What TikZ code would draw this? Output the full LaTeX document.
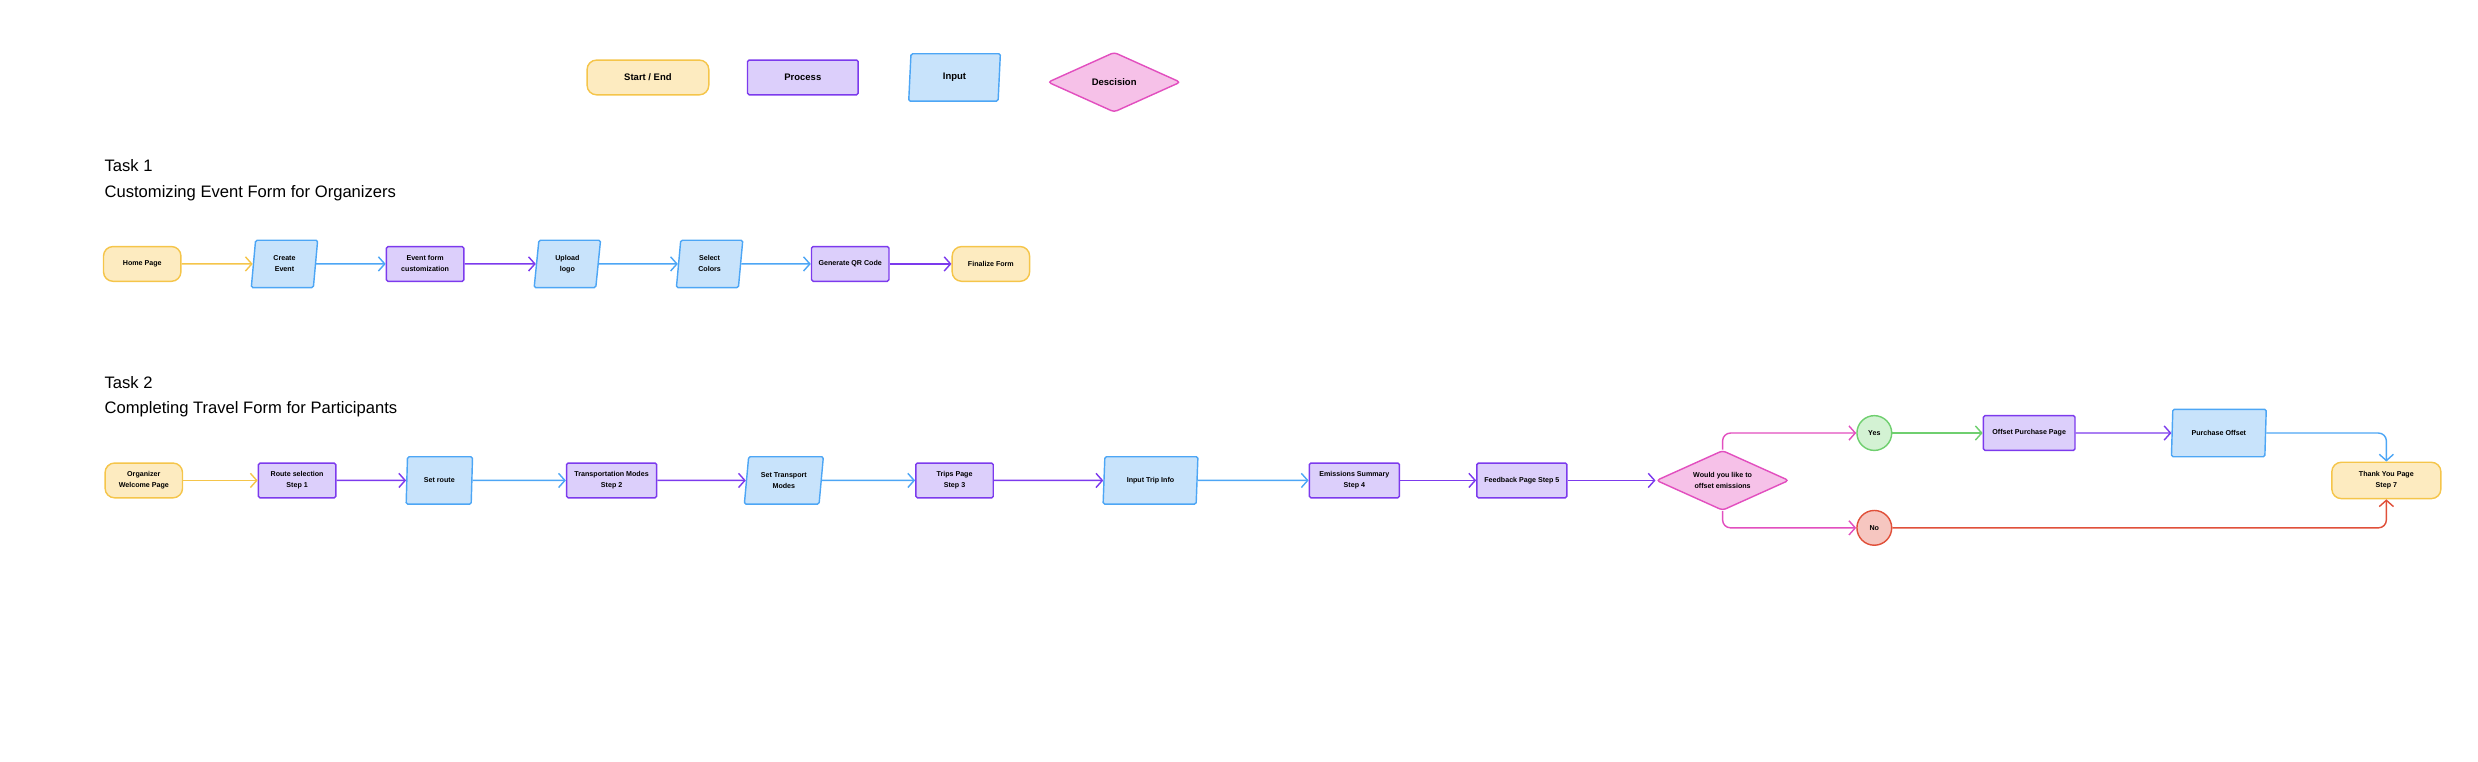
\documentclass[tikz,border=0pt]{standalone}
\usepackage{fontspec}
\setmainfont{Liberation Sans}
\usetikzlibrary{shapes.geometric,arrows.meta,positioning}
\definecolor{ylwF}{HTML}{FDEBC0}\definecolor{ylwD}{HTML}{F5C54A}
\definecolor{prpF}{HTML}{DCCFFB}\definecolor{prpD}{HTML}{7C3AED}
\definecolor{bluF}{HTML}{C8E3FB}\definecolor{bluD}{HTML}{4DA6F5}
\definecolor{pnkF}{HTML}{F6C1E8}\definecolor{pnkD}{HTML}{E24FBF}
\definecolor{grnF}{HTML}{D3F2D3}\definecolor{grnD}{HTML}{6FCF6F}
\definecolor{redF}{HTML}{F6C6C0}\definecolor{redD}{HTML}{E0503A}
\tikzset{
  box/.style={draw, line width=0.9pt, align=center, inner sep=0pt,
    font=\fontsize{4.5}{7}\selectfont\bfseries},
  term/.style={box, draw=ylwD, fill=ylwF, rounded corners=6pt,
    minimum width=49pt, minimum height=22pt},
  proc/.style={box, draw=prpD, fill=prpF, rounded corners=1pt,
    minimum width=49pt, minimum height=22pt},
  inp/.style={box, draw=bluD, fill=bluF, trapezium, trapezium left angle=75,
    trapezium right angle=105, trapezium stretches body, rounded corners=1pt,
    minimum width=42pt, minimum height=30pt},
  dec/.style={box, draw=pnkD, fill=pnkF, diamond, aspect=2.2,
    minimum width=84pt, minimum height=38pt, rounded corners=2pt},
  circ/.style={box, circle, minimum size=22pt},
  flow/.style={line width=0.9pt, -{Straight Barb[length=4pt,width=9pt]}},
  title/.style={anchor=west, inner sep=0pt, font=\fontsize{10.5}{12}\selectfont}
}
\begin{document}
\begin{tikzpicture}[x=1pt,y=-1pt]
  \useasboundingbox (0,0) rectangle (1568,482);
  % legend
  \node[term, minimum width=77pt, font=\fontsize{6}{8}\selectfont\bfseries] (lgT) at (410,49) {Start / End};
  \node[proc, minimum width=70pt, font=\fontsize{6}{8}\selectfont\bfseries] (lgP) at (508,49) {Process};
  \node[inp, minimum width=58pt, font=\fontsize{6}{8}\selectfont\bfseries] (lgI) at (604,49) {Input};
  \node[dec, font=\fontsize{6}{8}\selectfont\bfseries] (lgD) at (705,52) {Descision};
  % task 1
  \node[title] (t1) at (66,105) {Task 1};
  \node[title] (t1s) at (66,122) {Customizing Event Form for Organizers};
  \node[term] (home) at (90,167) {Home Page};
  \node[inp] (create) at (180,167) {Create\\Event};
  \node[proc] (custom) at (269,167) {Event form\\customization};
  \node[inp] (logo) at (359,167) {Upload\\logo};
  \node[inp] (colors) at (449,167) {Select\\Colors};
  \node[proc] (qr) at (538,167) {Generate QR Code};
  \node[term] (final) at (627,167) {Finalize Form};
  \draw[flow, ylwD] (home) -- (create);
  \draw[flow, bluD] (create) -- (custom);
  \draw[flow, prpD] (custom) -- (logo);
  \draw[flow, bluD] (logo) -- (colors);
  \draw[flow, bluD] (colors) -- (qr);
  \draw[flow, prpD] (qr) -- (final);
  % task 2
  \node[title] (t2) at (66,242) {Task 2};
  \node[title] (t2s) at (66,259) {Completing Travel Form for Participants};
  \node[term] (welcome) at (91,304) {Organizer\\Welcome Page};
  \node[proc] (route) at (188,304) {Route selection\\Step 1};
  \node[inp] (setroute) at (278,304) {Set route};
  \node[proc, minimum width=57pt] (modes) at (387,304) {Transportation Modes\\Step 2};
  \node[inp, minimum width=50pt] (setmodes) at (496,304) {Set Transport\\Modes};
  \node[proc] (trips) at (604,304) {Trips Page\\Step 3};
  \node[inp, minimum width=60pt] (tripinfo) at (728,304) {Input Trip Info};
  \node[proc, minimum width=57pt] (summary) at (857,304) {Emissions Summary\\Step 4};
  \node[proc, minimum width=57pt] (feedback) at (963,304) {Feedback Page Step 5};
  \node[dec] (offset) at (1090,304) {Would you like to\\offset emissions};
  \node[circ, draw=grnD, fill=grnF] (yes) at (1186,274) {Yes};
  \node[circ, draw=redD, fill=redF] (no) at (1186,334) {No};
  \node[proc, minimum width=58pt] (purchase) at (1284,274) {Offset Purchase Page};
  \node[inp, minimum width=60pt] (buy) at (1404,274) {Purchase Offset};
  \node[term, minimum width=69pt, minimum height=23pt] (thanks) at (1510,304) {Thank You Page\\Step 7};
  \draw[flow, ylwD] (welcome) -- (route);
  \draw[flow, prpD] (route) -- (setroute);
  \draw[flow, bluD] (setroute) -- (modes);
  \draw[flow, prpD] (modes) -- (setmodes);
  \draw[flow, bluD] (setmodes) -- (trips);
  \draw[flow, prpD] (trips) -- (tripinfo);
  \draw[flow, bluD] (tripinfo) -- (summary);
  \draw[flow, prpD] (summary) -- (feedback);
  \draw[flow, prpD] (feedback) -- (offset);
  \draw[flow, pnkD, rounded corners=5pt] (offset.north) |- (yes);
  \draw[flow, pnkD, rounded corners=5pt] (offset.south) |- (no);
  \draw[flow, grnD] (yes) -- (purchase);
  \draw[flow, prpD] (purchase) -- (buy);
  \draw[flow, bluD, rounded corners=5pt] (buy) -| (thanks.north);
  \draw[flow, redD, rounded corners=5pt] (no) -| (thanks.south);
\end{tikzpicture}
\end{document}
